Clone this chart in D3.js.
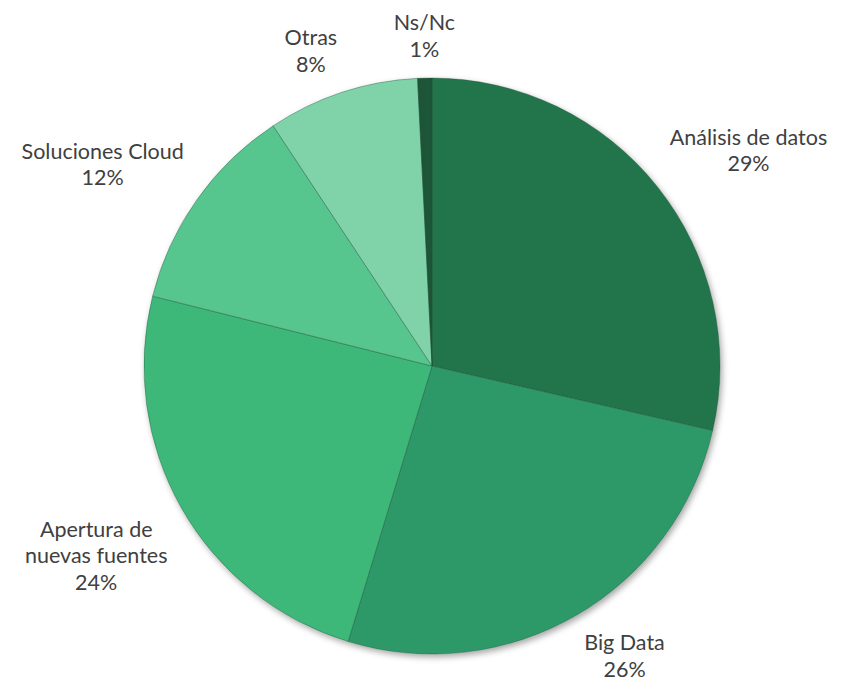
<!DOCTYPE html>
<html>
<head>
<meta charset="utf-8">
<title>Pie</title>
<script src="https://d3js.org/d3.v7.min.js"></script>
<style>
body { margin: 0; background: #fff; }
text { font-family: Lato, "Noto Sans", sans-serif; fill: #404040; }
</style>
</head>
<body>
<div id="chart"></div>
<script>
// categories clockwise from 12 o'clock
var categories = ["Análisis de datos", "Big Data", "Apertura de\nnuevas fuentes", "Soluciones Cloud", "Otras", "Ns/Nc"];
var values = [28.6, 26.1, 24.2, 11.8, 8.5, 0.8];
var labels = ["29%", "26%", "24%", "12%", "8%", "1%"];
var colors = ["#23744c", "#2f9968", "#3cb878", "#57c68e", "#80d3a9", "#1b5537"];

var width = 842, height = 681,
    cx = 432, cy = 366, radius = 288,
    fontSize = 21.5, lineH = 26.5;

var svg = d3.select("#chart").append("svg")
    .attr("width", width)
    .attr("height", height);

var defs = svg.append("defs");
var f = defs.append("filter").attr("id", "shadow")
    .attr("x", "-10%").attr("y", "-10%").attr("width", "120%").attr("height", "120%");
f.append("feDropShadow")
    .attr("dx", 2).attr("dy", 3).attr("stdDeviation", 3)
    .attr("flood-color", "#000").attr("flood-opacity", 0.35);

var pie = d3.pie().sort(null).value(function(d) { return d; });
var arcs = pie(values);
var arc = d3.arc().innerRadius(0).outerRadius(radius);

var g = svg.append("g").attr("transform", "translate(" + cx + "," + cy + ")");

g.append("g").attr("filter", "url(#shadow)")
  .selectAll("path")
    .data(arcs)
  .enter().append("path")
    .attr("d", arc)
    .attr("fill", function(d, i) { return colors[i]; })
    .attr("stroke", "#1e4a34")
    .attr("stroke-opacity", 0.45)
    .attr("stroke-width", 0.8);

// labels: box placed just outside the slice, touching a point at radius + 16
var labelR = radius + 16;
arcs.forEach(function(d, i) {
  var a = (d.startAngle + d.endAngle) / 2;
  var s = Math.sin(a), c = Math.cos(a);
  var px = labelR * s, py = -labelR * c;
  var lines = categories[i].split("\n").concat([labels[i]]);
  var t = g.append("text").attr("text-anchor", "middle").style("font-size", fontSize + "px");
  lines.forEach(function(l, j) {
    t.append("tspan").attr("x", 0).attr("y", j * lineH).text(l);
  });
  var w = 0;
  t.selectAll("tspan").each(function() { w = Math.max(w, this.getComputedTextLength()); });
  var h = lines.length * lineH;
  var bx = s > 0.1 ? px + w / 2 : (s < -0.1 ? px - w / 2 : px);
  var by = c > 0.1 ? py - h : (c < -0.1 ? py : py - h / 2);
  // first baseline sits a bit below the box top
  t.attr("transform", "translate(" + bx + "," + (by + lineH * 0.8) + ")");
});
</script>
</body>
</html>
